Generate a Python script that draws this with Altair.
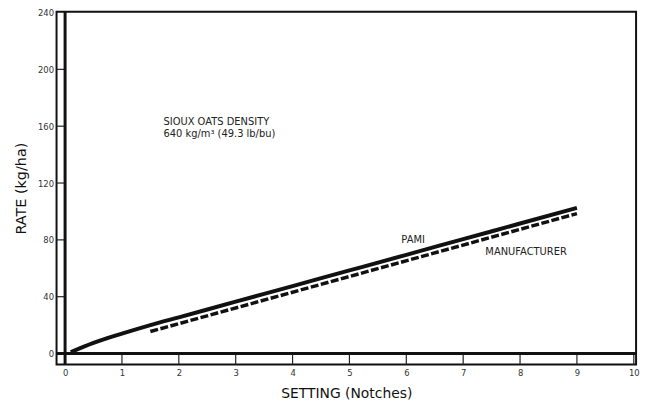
import altair as alt
import pandas as pd

# ---- data ----
pami_setting = [0.1, 0.5, 1.0, 1.5, 2.0, 3.0, 4.0, 5.0, 6.0, 7.0, 8.0, 9.0]
pami_rate = [1.0, 7.5, 14.0, 20.0, 25.5, 36.5, 47.5, 58.5, 69.5, 80.5, 91.5, 102.5]

mfr_setting = [1.5, 9.0]
mfr_rate = [15.5, 98.5]

x_tick_values = [0, 1, 2, 3, 4, 5, 6, 7, 8, 9, 10]
y_tick_values = [0, 40, 80, 120, 160, 200, 240]
x_strip_ticks = [1, 2, 3, 4, 5, 6, 7, 8, 9, 10]
y_strip_ticks = [40, 80, 120, 160, 200]

X_MIN, X_MAX = -0.15, 10.04
Y_MIN, Y_MAX = -7.7, 240.5

notes_x = [1.73, 1.73, 6.12, 7.39]
notes_y = [162.8, 154.2, 79.6, 71.4]
notes_text = ["SIOUX OATS DENSITY", "640 kg/m\u00b3 (49.3 lb/bu)", "PAMI", "MANUFACTURER"]
notes_align = ["left", "left", "center", "left"]

FONT = "DejaVu Sans"

xs = alt.Scale(domain=[X_MIN, X_MAX], nice=False, zero=False)
ys = alt.Scale(domain=[Y_MIN, Y_MAX], nice=False, zero=False)

x_axis = alt.Axis(values=x_tick_values, format="d", domain=False, ticks=False, grid=False,
                  labelFontSize=8.5, labelColor="#333", labelPadding=4, labelFont=FONT,
                  title="SETTING (Notches)", titleFont=FONT, titleFontSize=14,
                  titleFontWeight="normal", titleColor="#111", titlePadding=10)
y_axis = alt.Axis(values=y_tick_values, format="d", domain=False, ticks=False, grid=False,
                  labelFontSize=8.5, labelColor="#333", labelPadding=3, labelFont=FONT,
                  title="RATE (kg/ha)", titleFont=FONT, titleFontSize=14.5,
                  titleFontWeight="normal", titleColor="#111", titlePadding=9)

pami_df = pd.DataFrame({"setting": pami_setting, "rate": pami_rate})
mfr_df = pd.DataFrame({"setting": mfr_setting, "rate": mfr_rate})
xt_df = pd.DataFrame({"x": x_strip_ticks, "y": [Y_MIN] * len(x_strip_ticks), "y2": [0] * len(x_strip_ticks)})
yt_df = pd.DataFrame({"y": y_strip_ticks, "x": [X_MIN] * len(y_strip_ticks), "x2": [0] * len(y_strip_ticks)})
notes_df = pd.DataFrame({"x": notes_x, "y": notes_y, "t": notes_text, "a": notes_align})

base_axes = alt.Chart(pami_df).mark_line(opacity=0).encode(
    x=alt.X("setting:Q", scale=xs, axis=x_axis),
    y=alt.Y("rate:Q", scale=ys, axis=y_axis),
)

xticks = alt.Chart(xt_df).mark_rule(color="#222", strokeWidth=1.2).encode(
    x=alt.X("x:Q", scale=xs), y=alt.Y("y:Q", scale=ys), y2="y2:Q")
yticks = alt.Chart(yt_df).mark_rule(color="#222", strokeWidth=1.2).encode(
    y=alt.Y("y:Q", scale=ys), x=alt.X("x:Q", scale=xs), x2="x2:Q")

vzero = alt.Chart(pd.DataFrame({"x": [0]})).mark_rule(color="#111", strokeWidth=3).encode(
    x=alt.X("x:Q", scale=xs))
hzero = alt.Chart(pd.DataFrame({"y": [0]})).mark_rule(color="#111", strokeWidth=3).encode(
    y=alt.Y("y:Q", scale=ys))

pami_line = alt.Chart(pami_df).mark_line(color="#111", strokeWidth=4, interpolate="monotone").encode(
    x=alt.X("setting:Q", scale=xs), y=alt.Y("rate:Q", scale=ys))
mfr_line = alt.Chart(mfr_df).mark_line(color="#111", strokeWidth=3.5, strokeDash=[8, 2.5]).encode(
    x=alt.X("setting:Q", scale=xs), y=alt.Y("rate:Q", scale=ys))

left_notes = alt.Chart(notes_df[notes_df.a == "left"]).mark_text(
    font=FONT, fontSize=10, color="#222", align="left", baseline="middle").encode(
    x=alt.X("x:Q", scale=xs), y=alt.Y("y:Q", scale=ys), text="t:N")
center_notes = alt.Chart(notes_df[notes_df.a == "center"]).mark_text(
    font=FONT, fontSize=10, color="#222", align="center", baseline="middle").encode(
    x=alt.X("x:Q", scale=xs), y=alt.Y("y:Q", scale=ys), text="t:N")

chart = alt.layer(
    base_axes, xticks, yticks, vzero, hzero, mfr_line, pami_line, left_notes, center_notes
).properties(
    width=585, height=356,
    autosize=alt.AutoSizeParams(type="none"),
    padding={"left": 49, "top": 2, "right": 8, "bottom": 34},
    background="white",
).configure_view(stroke="#111", strokeWidth=2)

chart.save("out.html", embed_options={"renderer": "svg", "actions": False})
